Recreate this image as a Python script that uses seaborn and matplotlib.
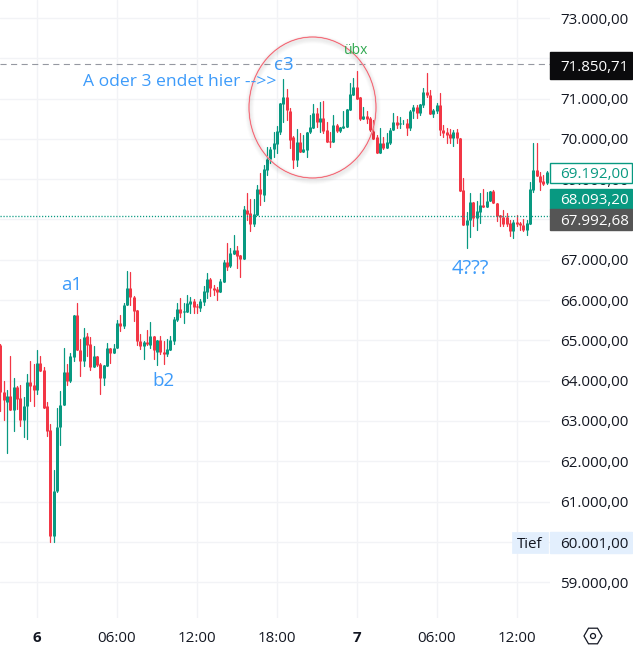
import numpy as np
import pandas as pd
import matplotlib
matplotlib.use('Agg')
import matplotlib.pyplot as plt
from matplotlib.patches import Ellipse, Rectangle, RegularPolygon, Circle
from matplotlib.transforms import Affine2D
from matplotlib.ticker import FuncFormatter
import seaborn as sns

# 15 minute candles, prices in thousands
opens = [
    64.89, 63.71, 63.48, 63.63, 63.28, 63.85, 63.58, 63.03, 63.36, 63.97,
    63.90, 63.78, 64.45, 64.27, 63.36, 62.78, 60.14, 61.27, 62.84, 63.39,
    64.22, 63.98, 64.58, 65.64, 64.77, 64.50, 65.12, 64.92, 64.33, 64.62,
    64.42, 64.06, 64.37, 64.82, 64.68, 64.80, 65.43, 65.35, 65.87, 66.31,
    66.07, 65.76, 64.98, 64.87, 64.95, 64.89, 65.11, 64.72, 65.01, 64.72,
    64.65, 64.76, 64.99, 65.51, 65.78, 65.70, 65.70, 65.90, 65.98, 65.86,
    65.81, 65.96, 66.20, 66.53, 66.31, 66.28, 66.21, 66.46, 66.95, 66.85,
    67.14, 67.24, 67.12, 67.02, 68.24, 68.15, 67.88, 68.12, 68.76, 68.62,
    69.23, 69.50, 69.74, 69.87, 70.18, 70.87, 71.04, 70.69, 70.04, 69.48,
    69.93, 69.68, 69.73, 70.16, 70.27, 70.64, 70.43, 70.51, 70.22, 69.95,
    69.93, 70.35, 70.20, 70.27, 70.30, 70.72, 71.09, 71.28, 71.03, 70.49,
    70.57, 70.51, 70.20, 70.05, 69.66, 69.89, 69.78, 69.90, 70.21, 70.42,
    70.38, 70.39, 70.39, 70.27, 70.68, 70.79, 70.65, 70.84, 71.16, 71.09,
    70.62, 70.70, 70.84, 70.22, 70.17, 70.12, 70.02, 70.16, 70.02, 68.73,
    67.87, 67.98, 68.43, 68.03, 68.19, 68.36, 68.30, 68.45, 68.71, 68.42,
    68.10, 68.07, 68.05, 67.91, 67.72, 67.93, 67.91, 67.87, 67.73, 67.89,
    68.74, 69.23, 69.08, 68.96, 68.90,
]
closes = [
    63.71, 63.51, 63.63, 63.28, 63.85, 63.55, 63.03, 63.38, 63.97, 63.87,
    63.78, 64.45, 64.25, 63.33, 62.76, 60.14, 61.27, 62.86, 63.40, 64.22,
    63.98, 64.60, 65.62, 64.75, 64.50, 65.08, 64.89, 64.33, 64.62, 64.40,
    64.06, 64.39, 64.82, 64.68, 64.82, 65.43, 65.35, 65.88, 66.31, 66.07,
    65.74, 64.98, 64.87, 64.95, 64.90, 65.11, 64.75, 65.01, 64.70, 64.65,
    64.79, 65.01, 65.53, 65.78, 65.67, 65.73, 65.93, 65.98, 65.83, 65.84,
    65.98, 66.23, 66.53, 66.31, 66.25, 66.21, 66.48, 66.95, 66.83, 67.16,
    67.24, 67.10, 67.01, 68.26, 68.14, 67.88, 68.14, 68.76, 68.63, 69.25,
    69.50, 69.75, 69.89, 70.20, 70.88, 71.04, 70.72, 69.97, 69.48, 69.93,
    69.68, 69.74, 70.18, 70.29, 70.64, 70.43, 70.51, 70.20, 69.93, 69.93,
    70.35, 70.20, 70.29, 70.33, 70.74, 71.11, 71.28, 71.00, 70.49, 70.57,
    70.49, 70.22, 70.00, 69.66, 69.89, 69.78, 69.92, 70.22, 70.42, 70.35,
    70.40, 70.40, 70.27, 70.69, 70.79, 70.65, 70.86, 71.16, 71.09, 70.62,
    70.72, 70.84, 70.21, 70.15, 70.10, 70.02, 70.17, 70.01, 68.71, 67.87,
    67.99, 68.43, 68.03, 68.20, 68.36, 68.30, 68.46, 68.71, 68.40, 68.08,
    68.07, 67.89, 67.90, 67.72, 67.93, 67.88, 67.86, 67.73, 67.91, 68.76,
    69.23, 69.07, 68.94, 68.88, 69.18,
]
highs = [
    64.92, 64.00, 63.76, 64.62, 64.07, 63.86, 63.88, 63.60, 64.17, 64.50,
    64.42, 64.77, 64.62, 64.35, 63.48, 62.93, 61.78, 63.31, 63.75, 64.82,
    64.42, 64.69, 65.64, 65.93, 65.04, 65.30, 65.18, 65.08, 64.85, 64.62,
    64.44, 64.39, 64.93, 64.82, 64.92, 65.50, 65.64, 65.93, 66.73, 66.70,
    66.10, 65.76, 65.16, 64.98, 65.26, 65.46, 65.11, 65.01, 65.11, 64.98,
    65.04, 65.11, 65.59, 65.92, 66.05, 65.92, 66.13, 66.07, 66.03, 65.91,
    66.02, 66.35, 66.67, 66.54, 66.38, 66.32, 66.53, 67.00, 67.42, 67.30,
    67.62, 67.34, 67.12, 68.33, 68.65, 68.50, 68.50, 68.85, 69.15, 69.35,
    69.81, 69.81, 70.18, 70.32, 70.88, 71.48, 71.23, 70.76, 70.06, 70.24,
    70.14, 70.10, 70.18, 70.59, 70.87, 70.76, 70.92, 70.94, 70.43, 70.18,
    70.59, 70.37, 70.30, 70.68, 70.74, 71.38, 71.50, 71.68, 71.05, 70.78,
    70.68, 70.55, 70.47, 70.10, 70.26, 70.05, 70.14, 70.26, 70.64, 70.57,
    70.55, 70.47, 70.49, 70.72, 70.84, 70.84, 70.86, 71.26, 71.63, 71.21,
    70.74, 70.88, 71.15, 70.35, 70.26, 70.24, 70.22, 70.24, 70.02, 69.03,
    68.18, 68.65, 68.43, 68.45, 68.65, 68.75, 68.69, 68.71, 68.73, 68.42,
    68.11, 68.24, 68.15, 67.99, 67.99, 68.11, 67.93, 68.01, 67.99, 68.92,
    69.89, 69.89, 69.19, 69.11, 69.21,
]
lows = [
    63.24, 63.02, 62.20, 63.26, 62.76, 63.30, 62.88, 62.59, 62.56, 63.49,
    63.38, 63.68, 64.25, 63.33, 62.62, 60.00, 60.00, 61.23, 62.41, 63.39,
    63.90, 63.97, 64.48, 64.75, 64.12, 64.37, 64.62, 64.27, 64.33, 64.37,
    63.66, 63.88, 64.37, 64.44, 64.68, 64.80, 65.23, 65.30, 65.87, 65.88,
    65.47, 64.89, 64.79, 64.55, 64.89, 64.80, 64.53, 64.38, 64.66, 64.42,
    64.62, 64.76, 64.91, 65.48, 65.57, 65.44, 65.70, 65.67, 65.69, 65.69,
    65.72, 65.88, 66.05, 66.09, 66.13, 66.00, 66.21, 66.46, 66.75, 66.83,
    67.14, 66.80, 66.57, 67.02, 67.99, 67.72, 67.83, 68.10, 68.36, 68.45,
    69.10, 69.40, 69.56, 69.64, 70.12, 70.43, 70.47, 69.77, 69.28, 69.33,
    69.68, 69.68, 69.54, 70.14, 70.27, 70.30, 70.18, 70.14, 69.93, 69.79,
    69.93, 70.18, 70.18, 70.27, 70.30, 70.72, 71.09, 71.00, 70.47, 70.49,
    70.40, 70.20, 70.00, 69.66, 69.66, 69.76, 69.78, 69.88, 70.21, 70.26,
    70.26, 70.37, 70.10, 70.22, 70.53, 70.51, 70.60, 70.78, 71.05, 70.62,
    70.55, 70.64, 70.10, 70.04, 69.91, 69.91, 69.83, 69.89, 68.71, 67.87,
    67.28, 67.56, 67.84, 67.73, 67.91, 68.30, 68.30, 68.45, 68.40, 67.97,
    67.84, 67.84, 67.85, 67.58, 67.55, 67.85, 67.74, 67.72, 67.62, 67.89,
    68.67, 69.07, 68.74, 68.86, 68.88,
]
first_slot = -11  # slots counted from midnight of the 6th
price_ticks = [73, 71, 70, 69, 67, 66, 65, 64, 63, 62, 61, 59]
grid_prices = list(range(59, 74))
time_ticks = [0, 24, 48, 72, 96, 120, 144]
time_labels = ['6', '06:00', '12:00', '18:00', '7', '06:00', '12:00']
bold_times = ['6', '7']
marked_level = 71.85071
last_level = 68.0932

GREEN = '#089981'
RED = '#F23645'
INK = '#131722'
GRID = '#F2F3F6'
NOTE_BLUE = '#3D9BFA'
LABEL_SIZE = 10.9

sns.set_style('white')
plt.rcParams['font.family'] = ['Open Sans', 'DejaVu Sans']

df = pd.DataFrame({'open': opens, 'close': closes, 'high': highs, 'low': lows})
df['slot'] = np.arange(len(df)) + first_slot
df['side'] = np.where(df['close'] >= df['open'], 'up', 'down')
side_colors = {'up': GREEN, 'down': RED}

wicks = df.melt(id_vars=['slot', 'side'], value_vars=['low', 'high'], value_name='price')
bodies = df.melt(id_vars=['slot', 'side'], value_vars=['open', 'close'], value_name='price')

W, H = 633, 651
fig = plt.figure(figsize=(W / 100, H / 100), dpi=100)
ax = fig.add_axes([0, (H - 618) / H, 550 / W, 618 / H])

# picture pixels, y running down
px = Affine2D().scale(1, -1).translate(0, H)

sns.lineplot(data=wicks, x='slot', y='price', hue='side', units='slot', estimator=None,
             palette=side_colors, sort=False, linewidth=0.9, legend=False, ax=ax)
sns.lineplot(data=bodies, x='slot', y='price', hue='side', units='slot', estimator=None,
             palette=side_colors, sort=False, linewidth=2.15, solid_capstyle='butt',
             legend=False, ax=ax)

ax.set_xlim(-11.1, 154)
ax.set_ylim(58.11, 73.447)
ax.set_xlabel('')
ax.set_ylabel('')
ax.set_axisbelow(True)
ax.yaxis.tick_right()
ax.set_yticks(grid_prices)
ax.yaxis.set_major_formatter(FuncFormatter(
    lambda v, _: f'{int(v)}.000,00' if int(round(v)) in price_ticks else ''))
ax.set_xticks(time_ticks)
ax.set_xticklabels(time_labels)
ax.tick_params(axis='y', length=0, pad=7.2, labelsize=LABEL_SIZE, labelcolor=INK)
ax.tick_params(axis='x', length=0, pad=9.5, labelsize=LABEL_SIZE, labelcolor=INK)
for label in ax.get_xticklabels():
    if label.get_text() in bold_times:
        label.set_fontweight('bold')
ax.grid(True, color=GRID, linewidth=1)
sns.despine(ax=ax, left=True, bottom=True, right=True, top=True)

ax.axhline(marked_level, color='#9598A1', linewidth=0.8, dashes=(5.5, 4), zorder=3)
ax.axhline(last_level, color=GREEN, linewidth=0.95, dashes=(0.9, 1.35), zorder=3)

# circle drawing with its soft shadow
for grow, alpha in zip([7, 5, 3, 1], [0.012, 0.018, 0.026, 0.035]):
    for sign in (1, -1):
        fig.add_artist(Ellipse((313, 109.5), 127 + sign * grow, 141 + sign * grow, fill=False,
                               edgecolor='black', alpha=alpha, linewidth=1.6,
                               transform=px, zorder=4))
fig.add_artist(Ellipse((312.5, 107.5), 127, 141, fill=False, edgecolor='#F9BDC2',
                       linewidth=1.1, transform=px, zorder=5))
fig.add_artist(Ellipse((312.5, 107.5), 127, 141, fill=False, edgecolor='#EE4455',
                       linewidth=0.45, transform=px, zorder=5))

# price labels over the scale
def price_box(y0, y1, face, edge, text, color, x0=549.5):
    fig.add_artist(Rectangle((x0, y0), 632 - x0, y1 - y0, facecolor=face, edgecolor=edge,
                             linewidth=1, transform=px, zorder=6))
    fig.text(560, (y0 + y1) / 2, text, color=color, fontsize=LABEL_SIZE, ha='left', va='center_baseline',
             transform=px, zorder=7)

price_box(52, 79, '#0B0B0D', '#0B0B0D', '71.850,71', 'white')
price_box(162.5, 183, 'white', GREEN, '69.192,00', GREEN)
price_box(189, 209, GREEN, GREEN, '68.093,20', 'white')
price_box(209, 230, '#555555', '#555555', '67.992,68', 'white')
price_box(532, 553, '#E3EFFD', '#E3EFFD', '60.001,00', INK)
fig.add_artist(Rectangle((512, 532), 36, 21, facecolor='#E3EFFD', edgecolor='#E3EFFD',
                         linewidth=0.5, transform=px, zorder=6))
fig.text(530, 542.5, 'Tief', color=INK, fontsize=LABEL_SIZE, ha='center', va='center_baseline',
         transform=px, zorder=7)

# notes written on the chart
notes = [(72, 283, 'a1', NOTE_BLUE, 13.5), (163, 379, 'b2', NOTE_BLUE, 13.5), (284, 63, 'c3', NOTE_BLUE, 13.5),
         (179.5, 80, 'A oder 3 endet hier -->>', NOTE_BLUE, 12.6), (470, 267, '4???', NOTE_BLUE, 14.5),
         (356, 49, 'übx', '#2FA84F', 10)]
for x, y, text, color, size in notes:
    fig.text(x, y, text, color=color, fontsize=size, ha='center', va='center_baseline',
             transform=px, zorder=8)

# settings icon on the bottom right
fig.add_artist(RegularPolygon((593, 636), 6, radius=9, orientation=np.pi / 2, fill=False,
                              edgecolor=INK, linewidth=0.9, transform=px, zorder=6))
fig.add_artist(Circle((593, 636), 2.5, fill=False, edgecolor=INK, linewidth=0.9,
                      transform=px, zorder=6))

fig.savefig('out.png', dpi=100, facecolor='white')
